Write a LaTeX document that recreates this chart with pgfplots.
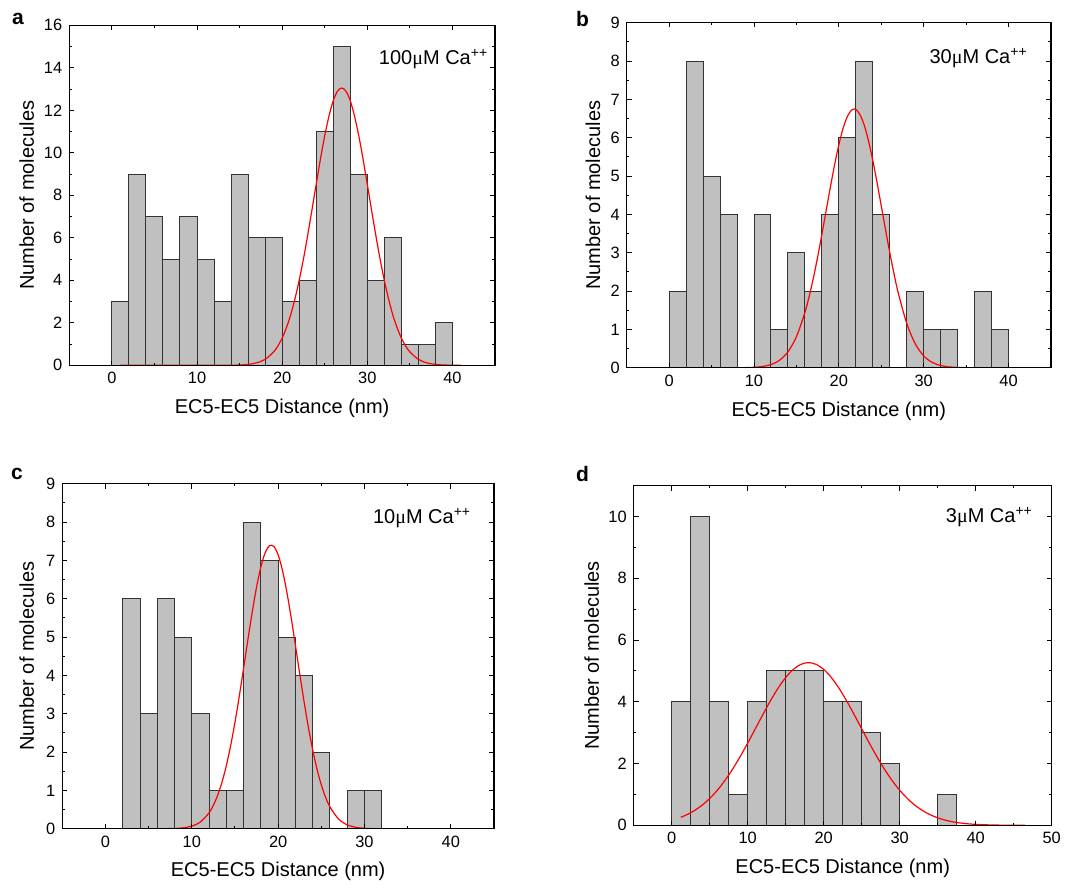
\documentclass[border=0pt]{standalone}
\usepackage{fontspec}
\setmainfont{Liberation Sans}
\newfontfamily\serifmu{Liberation Serif}
\usepackage{pgfplots}
\pgfplotsset{compat=1.18}
\definecolor{histgray}{RGB}{192,192,192}
\definecolor{fitred}{RGB}{255,0,0}
\pgfplotsset{
  hpanel/.style={
    scale only axis,
    axis on top,
    axis line style={line width=0.6pt},
    tick align=inside,
    major tick length=2.4pt,
    minor tick length=1.3pt,
    every tick/.style={black, line width=0.5pt},
    tick label style={font=\fontsize{8.2}{9.8}\selectfont},
    label style={font=\fontsize{10}{12}\selectfont},
    /pgf/number format/assume math mode=true,
    minor x tick num=1,
    xmin=-5,
    xtick distance=10,
    xlabel={EC5-EC5 Distance (nm)},
    ylabel={Number of molecules},
    ymin=0,
  },
  bars/.style={ybar interval, fill=histgray, draw=black!80, line width=0.5pt},
  fit/.style={fitred, line width=0.6pt, smooth, mark=none},
}
\newcommand{\conc}[1]{#1{\serifmu μ}M Ca\textsuperscript{++}}
\begin{document}
\begin{tikzpicture}
\useasboundingbox (0pt,0pt) rectangle (545pt,-443.5pt);

% ---------- panel a ----------
\begin{axis}[hpanel, at={(34.65pt,-182.65pt)}, anchor=south west,
  width=212.85pt, height=170pt, xmax=45, ymax=16, ytick distance=2, minor y tick num=1,
  xlabel style={at={(axis description cs:0.5,-0.1265)}, anchor=center},
  ylabel style={at={(axis description cs:-0.100,0.5)}, anchor=center}]
\addplot[bars] coordinates {(0,3) (2,9) (4,7) (6,5) (8,7) (10,5) (12,3) (14,9) (16,6) (18,6) (20,3) (22,4) (24,11) (26,15) (28,9) (30,4) (32,6) (34,1) (36,1) (38,2) (40,0)};
\addplot[fit] coordinates {(1,0) (10,0) (14,0.004) (15,0.014) (16,0.042) (17,0.115) (18,0.28) (19,0.63) (19.5,0.91) (20,1.28) (20.5,1.77) (21,2.37) (21.5,3.12) (22,4.00) (22.5,5.00) (23,6.12) (23.5,7.31) (24,8.52) (24.5,9.71) (25,10.80) (25.5,11.73) (26,12.45) (26.5,12.90) (27,13.05) (27.5,12.90) (28,12.45) (28.5,11.73) (29,10.80) (29.5,9.71) (30,8.52) (30.5,7.31) (31,6.12) (31.5,5.00) (32,4.00) (32.5,3.12) (33,2.37) (33.5,1.77) (34,1.28) (34.5,0.91) (35,0.63) (36,0.28) (37,0.115) (38,0.042) (39,0.014) (40,0.004) (41,0.001)};
\node[anchor=north east, inner sep=0pt, font=\fontsize{10}{12}\selectfont] at (rel axis cs:0.985,0.93) {\conc{100}};
\end{axis}

% ---------- panel b ----------
\begin{axis}[hpanel, at={(313.35pt,-183.85pt)}, anchor=south west,
  width=212.15pt, height=172.5pt, xmax=45, ymax=9, ytick distance=1, minor y tick num=1,
  xlabel style={at={(axis description cs:0.5,-0.1275)}, anchor=center},
  ylabel style={at={(axis description cs:-0.0794,0.5)}, anchor=center}]
\addplot[bars] coordinates {(0,2) (2,8) (4,5) (6,4) (8,0) (10,4) (12,1) (14,3) (16,2) (18,4) (20,6) (22,8) (24,4) (26,0) (28,2) (30,1) (32,1) (34,0) (36,2) (38,1) (40,0)};
\addplot[fit] coordinates {(1,0) (8,0) (10,0.011) (11,0.032) (12,0.082) (13,0.193) (14,0.413) (15,0.808) (16,1.441) (16.5,1.859) (17,2.343) (17.5,2.888) (18,3.478) (18.5,4.094) (19,4.709) (19.5,5.295) (20,5.817) (20.5,6.246) (21,6.555) (21.5,6.722) (21.8,6.75) (22,6.74) (22.5,6.600) (23,6.318) (23.5,5.911) (24,5.405) (24.5,4.830) (25,4.218) (25.5,3.600) (26,3.003) (26.5,2.448) (27,1.950) (28,1.156) (29,0.625) (30,0.308) (31,0.139) (32,0.057) (33,0.021) (34,0.007) (36,0.001) (41,0)};
\node[anchor=north east, inner sep=0pt, font=\fontsize{10}{12}\selectfont] at (rel axis cs:0.946,0.926) {\conc{30}};
\end{axis}

% ---------- panel c ----------
\begin{axis}[hpanel, at={(31.15pt,-414.35pt)}, anchor=south west,
  width=215.85pt, height=172.5pt, xmax=45, ymax=9, ytick distance=1, minor y tick num=1,
  xlabel style={at={(axis description cs:0.5,-0.1246)}, anchor=center},
  ylabel style={at={(axis description cs:-0.0825,0.5)}, anchor=center}]
\addplot[bars] coordinates {(0,0) (2,6) (4,3) (6,6) (8,5) (10,3) (12,1) (14,1) (16,8) (18,7) (20,5) (22,4) (24,2) (26,0) (28,1) (30,1) (32,0)};
\addplot[fit] coordinates {(1,0) (6,0) (8,0.007) (9,0.023) (10,0.067) (11,0.177) (12,0.415) (12.5,0.611) (13,0.875) (13.5,1.217) (14,1.647) (14.5,2.169) (15,2.777) (15.5,3.459) (16,4.190) (16.5,4.936) (17,5.655) (17.5,6.302) (18,6.831) (18.5,7.201) (19,7.384) (19.5,7.363) (20,7.142) (20.5,6.737) (21,6.181) (21.5,5.516) (22,4.787) (22.5,4.041) (23,3.318) (23.5,2.649) (24,2.058) (24.5,1.554) (25,1.142) (25.5,0.816) (26,0.567) (27,0.252) (28,0.100) (29,0.036) (30,0.011) (31,0.003) (33,0) (41,0)};
\node[anchor=north east, inner sep=0pt, font=\fontsize{10}{12}\selectfont] at (rel axis cs:0.948,0.929) {\conc{10}};
\end{axis}

% ---------- panel d ----------
\begin{axis}[hpanel, at={(316.85pt,-412.65pt)}, anchor=south west,
  width=209pt, height=169.8pt, xmax=50, ymax=11, ytick={0,2,4,6,8,10}, minor y tick num=1,
  xlabel style={at={(axis description cs:0.5,-0.1266)}, anchor=center},
  ylabel style={at={(axis description cs:-0.1005,0.5)}, anchor=center}]
\addplot[bars] coordinates {(0,4) (2.5,10) (5,4) (7.5,1) (10,4) (12.5,5) (15,5) (17.5,5) (20,4) (22.5,4) (25,3) (27.5,2) (30,0) (32.5,0) (35,1) (37.5,0)};
\addplot[fit] coordinates {(1.2,0.26) (2,0.344) (3,0.479) (4,0.652) (5,0.870) (6,1.135) (7,1.451) (8,1.815) (9,2.222) (10,2.664) (11,3.126) (12,3.590) (13,4.037) (14,4.444) (15,4.788) (16,5.050) (17,5.214) (18,5.27) (19,5.214) (20,5.050) (21,4.788) (22,4.444) (23,4.037) (24,3.590) (25,3.126) (26,2.664) (27,2.222) (28,1.815) (29,1.451) (30,1.135) (31,0.870) (32,0.652) (33,0.479) (34,0.344) (35,0.242) (36,0.167) (37,0.112) (38,0.074) (39,0.048) (40,0.030) (41,0.019) (43,0.007) (46.5,0.001)};
\node[anchor=north east, inner sep=0pt, font=\fontsize{10}{12}\selectfont] at (rel axis cs:0.956,0.938) {\conc{3}};
\end{axis}

% panel letters
\node[font=\fontsize{10.5}{12}\selectfont\bfseries] at (9pt,-9.5pt) {a};
\node[font=\fontsize{10.5}{12}\selectfont\bfseries] at (291.25pt,-9.5pt) {b};
\node[font=\fontsize{10.5}{12}\selectfont\bfseries] at (8.5pt,-237pt) {c};
\node[font=\fontsize{10.5}{12}\selectfont\bfseries] at (291.25pt,-236.85pt) {d};
\end{tikzpicture}
\end{document}
